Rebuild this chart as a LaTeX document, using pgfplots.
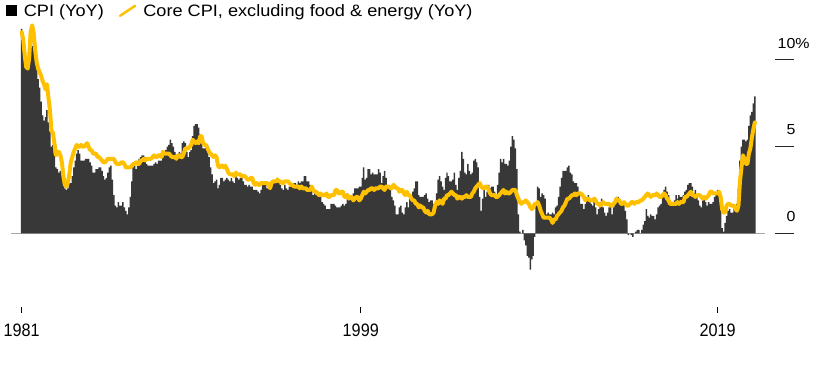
\documentclass[border=0pt]{standalone}
\usepackage{fontspec}
\setmainfont{Liberation Sans}
\newfontfamily\widefont{Liberation Sans}[FakeStretch=1.1]
\newfontfamily\condfont{Liberation Sans}[FakeStretch=0.9]
\usepackage{pgfplots}
\usepackage{pgfplotstable}
\pgfplotsset{compat=1.18}
\definecolor{barc}{HTML}{383838}
\definecolor{corec}{HTML}{FFC000}
\definecolor{basec}{HTML}{A8A8A8}

% monthly, Jan 1981 - Feb 2022: CPI YoY, core CPI YoY
\pgfplotstableread[row sep=\\]{
cpi core\\
11.8 11.6\\ 11.4 11.2\\ 10.5 10.3\\ 10.0 9.6\\ 9.8 9.5\\ 9.6 10.1\\ 10.8 11.6\\ 10.8 12.0\\ 11.0 11.6\\ 10.1 10.6\\ 9.6 9.9\\ 8.9 9.5\\
8.4 9.3\\ 7.6 9.1\\ 6.8 8.8\\ 6.5 8.6\\ 6.7 8.3\\ 7.1 8.6\\ 6.4 7.8\\ 5.9 7.1\\ 5.0 5.9\\ 5.1 5.8\\ 4.6 5.2\\ 3.8 4.5\\
3.7 4.7\\ 3.5 4.7\\ 3.6 4.5\\ 3.9 4.1\\ 3.5 3.3\\ 2.6 2.8\\ 2.5 2.7\\ 2.6 2.9\\ 2.9 3.4\\ 2.9 4.1\\ 3.3 4.4\\ 3.8 4.7\\
4.2 4.9\\ 4.6 5.1\\ 4.8 5.0\\ 4.6 5.0\\ 4.2 5.1\\ 4.2 5.0\\ 4.2 5.0\\ 4.3 5.1\\ 4.3 5.2\\ 4.3 5.0\\ 4.1 4.8\\ 3.9 4.8\\
3.5 4.6\\ 3.5 4.6\\ 3.7 4.6\\ 3.7 4.4\\ 3.8 4.4\\ 3.8 4.3\\ 3.6 4.2\\ 3.3 4.1\\ 3.1 4.1\\ 3.2 4.2\\ 3.5 4.3\\ 3.8 4.3\\
3.9 4.3\\ 3.1 4.3\\ 2.2 4.3\\ 1.6 4.1\\ 1.5 4.0\\ 1.8 4.0\\ 1.6 4.0\\ 1.6 4.1\\ 1.8 4.1\\ 1.5 4.0\\ 1.3 3.8\\ 1.1 3.8\\
1.5 3.8\\ 2.1 3.8\\ 3.0 3.9\\ 3.8 4.0\\ 3.9 4.0\\ 3.7 4.1\\ 3.9 4.0\\ 4.3 4.0\\ 4.4 4.2\\ 4.5 4.2\\ 4.5 4.3\\ 4.4 4.2\\
4.0 4.3\\ 3.9 4.3\\ 3.9 4.3\\ 3.9 4.3\\ 3.9 4.4\\ 4.0 4.5\\ 4.1 4.4\\ 4.0 4.4\\ 4.2 4.5\\ 4.2 4.5\\ 4.2 4.4\\ 4.4 4.7\\
4.7 4.6\\ 4.8 4.6\\ 5.0 4.6\\ 5.1 4.6\\ 5.4 4.5\\ 5.2 4.4\\ 5.0 4.4\\ 4.7 4.4\\ 4.3 4.3\\ 4.5 4.5\\ 4.7 4.5\\ 4.6 4.4\\
5.2 4.4\\ 5.3 4.6\\ 5.2 4.9\\ 4.7 4.9\\ 4.4 4.9\\ 4.7 5.0\\ 4.8 5.1\\ 5.6 5.4\\ 6.2 5.3\\ 6.3 5.2\\ 6.3 5.3\\ 6.1 5.2\\
5.7 5.6\\ 5.3 5.6\\ 4.9 5.2\\ 4.9 5.1\\ 5.0 5.1\\ 4.7 4.9\\ 4.4 4.7\\ 3.8 4.6\\ 3.4 4.5\\ 2.9 4.4\\ 3.0 4.5\\ 3.1 4.4\\
2.6 3.9\\ 2.8 3.8\\ 3.2 3.9\\ 3.2 3.9\\ 3.0 3.8\\ 3.1 3.9\\ 3.2 3.7\\ 3.1 3.5\\ 3.0 3.4\\ 3.2 3.4\\ 3.0 3.4\\ 2.9 3.3\\
3.3 3.5\\ 3.2 3.4\\ 3.1 3.4\\ 3.2 3.4\\ 3.2 3.3\\ 3.0 3.3\\ 2.8 3.3\\ 2.8 3.2\\ 2.7 3.1\\ 2.8 3.1\\ 2.7 3.2\\ 2.7 3.2\\
2.5 2.9\\ 2.5 2.8\\ 2.5 2.9\\ 2.4 2.8\\ 2.3 2.8\\ 2.5 2.9\\ 2.8 2.9\\ 2.9 2.9\\ 3.0 2.9\\ 2.6 2.9\\ 2.7 2.8\\ 2.7 2.6\\
2.8 2.9\\ 2.9 3.0\\ 2.9 3.0\\ 3.1 3.0\\ 3.2 3.1\\ 3.0 3.0\\ 2.8 3.0\\ 2.6 2.9\\ 2.5 2.9\\ 2.8 3.0\\ 2.6 3.0\\ 2.5 3.0\\
2.7 2.9\\ 2.7 2.8\\ 2.8 2.8\\ 2.9 2.7\\ 2.9 2.7\\ 2.8 2.7\\ 3.0 2.7\\ 2.9 2.6\\ 3.0 2.7\\ 3.0 2.6\\ 3.3 2.6\\ 3.3 2.6\\
3.0 2.5\\ 3.0 2.5\\ 2.8 2.5\\ 2.5 2.7\\ 2.2 2.5\\ 2.3 2.4\\ 2.2 2.4\\ 2.2 2.3\\ 2.2 2.2\\ 2.1 2.3\\ 1.8 2.2\\ 1.7 2.2\\
1.6 2.2\\ 1.4 2.3\\ 1.4 2.1\\ 1.4 2.1\\ 1.7 2.2\\ 1.7 2.2\\ 1.7 2.2\\ 1.6 2.5\\ 1.5 2.5\\ 1.5 2.3\\ 1.5 2.3\\ 1.6 2.4\\
1.7 2.4\\ 1.6 2.1\\ 1.7 2.1\\ 2.3 2.2\\ 2.1 2.0\\ 2.0 2.1\\ 2.1 2.1\\ 2.3 1.9\\ 2.6 2.0\\ 2.6 2.1\\ 2.6 2.1\\ 2.7 1.9\\
2.7 2.0\\ 3.2 2.2\\ 3.8 2.4\\ 3.1 2.3\\ 3.2 2.4\\ 3.7 2.5\\ 3.7 2.5\\ 3.4 2.6\\ 3.5 2.6\\ 3.4 2.5\\ 3.4 2.6\\ 3.4 2.6\\
3.7 2.6\\ 3.5 2.7\\ 2.9 2.7\\ 3.3 2.6\\ 3.6 2.5\\ 3.2 2.7\\ 2.7 2.7\\ 2.7 2.7\\ 2.6 2.6\\ 2.1 2.6\\ 1.9 2.8\\ 1.6 2.7\\
1.1 2.6\\ 1.1 2.6\\ 1.5 2.4\\ 1.6 2.5\\ 1.2 2.5\\ 1.1 2.3\\ 1.5 2.2\\ 1.8 2.4\\ 1.5 2.2\\ 2.0 2.2\\ 2.2 2.0\\ 2.4 1.9\\
2.6 1.9\\ 3.0 1.7\\ 3.0 1.7\\ 2.2 1.5\\ 2.1 1.6\\ 2.1 1.5\\ 2.1 1.5\\ 2.2 1.3\\ 2.3 1.2\\ 2.0 1.3\\ 1.8 1.1\\ 1.9 1.1\\
1.9 1.1\\ 1.7 1.2\\ 1.7 1.6\\ 2.3 1.8\\ 3.1 1.7\\ 3.3 1.9\\ 3.0 1.8\\ 2.7 1.7\\ 2.5 2.0\\ 3.2 2.0\\ 3.5 2.2\\ 3.3 2.2\\
3.0 2.3\\ 3.0 2.4\\ 3.1 2.3\\ 3.5 2.2\\ 2.8 2.2\\ 2.5 2.0\\ 3.2 2.1\\ 3.6 2.1\\ 4.7 2.0\\ 4.3 2.1\\ 3.5 2.1\\ 3.4 2.2\\
4.0 2.1\\ 3.6 2.1\\ 3.4 2.1\\ 3.5 2.3\\ 4.2 2.4\\ 4.3 2.6\\ 4.1 2.7\\ 3.8 2.8\\ 2.1 2.9\\ 1.3 2.7\\ 2.0 2.6\\ 2.5 2.6\\
2.1 2.7\\ 2.4 2.7\\ 2.8 2.5\\ 2.6 2.3\\ 2.7 2.2\\ 2.7 2.2\\ 2.4 2.2\\ 2.0 2.1\\ 2.8 2.1\\ 3.5 2.2\\ 4.3 2.3\\ 4.1 2.4\\
4.3 2.5\\ 4.0 2.3\\ 4.0 2.4\\ 3.9 2.3\\ 4.2 2.3\\ 5.0 2.4\\ 5.6 2.5\\ 5.4 2.5\\ 4.9 2.5\\ 3.7 2.2\\ 1.1 2.0\\ 0.1 1.8\\
0.0 1.7\\ 0.2 1.8\\ -0.4 1.8\\ -0.7 1.9\\ -1.3 1.8\\ -1.4 1.7\\ -2.1 1.5\\ -1.5 1.4\\ -1.3 1.5\\ -0.2 1.7\\ 1.8 1.7\\ 2.7 1.8\\
2.6 1.6\\ 2.1 1.3\\ 2.3 1.1\\ 2.2 0.9\\ 2.0 0.9\\ 1.1 0.9\\ 1.2 0.9\\ 1.1 0.9\\ 1.1 0.8\\ 1.2 0.6\\ 1.1 0.8\\ 1.5 0.8\\
1.6 1.0\\ 2.1 1.1\\ 2.7 1.2\\ 3.2 1.3\\ 3.6 1.5\\ 3.6 1.6\\ 3.6 1.8\\ 3.8 2.0\\ 3.9 2.0\\ 3.5 2.1\\ 3.4 2.2\\ 3.0 2.2\\
2.9 2.3\\ 2.9 2.2\\ 2.7 2.3\\ 2.3 2.3\\ 1.7 2.3\\ 1.7 2.2\\ 1.4 2.1\\ 1.7 1.9\\ 2.0 2.0\\ 2.2 2.0\\ 1.8 1.9\\ 1.7 1.9\\
1.6 1.9\\ 2.0 2.0\\ 1.5 1.9\\ 1.1 1.7\\ 1.4 1.7\\ 1.8 1.6\\ 2.0 1.7\\ 1.5 1.8\\ 1.2 1.7\\ 1.0 1.7\\ 1.2 1.7\\ 1.5 1.7\\
1.6 1.6\\ 1.1 1.6\\ 1.5 1.7\\ 2.0 1.8\\ 2.1 2.0\\ 2.1 1.9\\ 2.0 1.9\\ 1.7 1.7\\ 1.7 1.7\\ 1.7 1.8\\ 1.3 1.7\\ 0.8 1.6\\
-0.1 1.6\\ 0.0 1.7\\ -0.1 1.8\\ -0.2 1.8\\ 0.0 1.7\\ 0.1 1.8\\ 0.2 1.8\\ 0.2 1.8\\ 0.0 1.9\\ 0.2 1.9\\ 0.5 2.0\\ 0.7 2.1\\
1.4 2.2\\ 1.0 2.3\\ 0.9 2.2\\ 1.1 2.1\\ 1.0 2.2\\ 1.0 2.2\\ 0.8 2.2\\ 1.1 2.3\\ 1.5 2.2\\ 1.6 2.1\\ 1.7 2.1\\ 2.1 2.2\\
2.5 2.3\\ 2.7 2.2\\ 2.4 2.0\\ 2.2 1.9\\ 1.9 1.7\\ 1.6 1.7\\ 1.7 1.7\\ 1.9 1.7\\ 2.2 1.7\\ 2.0 1.8\\ 2.2 1.7\\ 2.1 1.8\\
2.1 1.8\\ 2.2 1.8\\ 2.4 2.1\\ 2.5 2.1\\ 2.8 2.2\\ 2.9 2.3\\ 2.9 2.4\\ 2.7 2.2\\ 2.3 2.2\\ 2.5 2.1\\ 2.2 2.2\\ 1.9 2.2\\
1.6 2.2\\ 1.5 2.1\\ 1.9 2.0\\ 2.0 2.1\\ 1.8 2.0\\ 1.6 2.1\\ 1.8 2.2\\ 1.7 2.4\\ 1.7 2.4\\ 1.8 2.3\\ 2.1 2.3\\ 2.3 2.3\\
2.5 2.3\\ 2.3 2.4\\ 1.5 2.1\\ 0.3 1.4\\ 0.1 1.2\\ 0.6 1.2\\ 1.0 1.6\\ 1.3 1.7\\ 1.4 1.7\\ 1.2 1.6\\ 1.2 1.6\\ 1.4 1.6\\
1.4 1.4\\ 1.7 1.3\\ 2.6 1.6\\ 4.2 3.0\\ 5.0 3.8\\ 5.4 4.5\\ 5.4 4.3\\ 5.3 4.0\\ 5.4 4.0\\ 6.2 4.6\\ 6.8 4.9\\ 7.0 5.5\\
7.5 6.0\\ 7.9 6.4\\
}\cpidata

\begin{document}
\begin{tikzpicture}
\begin{axis}[
  scale only axis, width=814pt, height=376pt,
  xmin=-14.6, xmax=532.8, ymin=-8.23, ymax=13.46,
  enlargelimits=false, clip=false,
  axis x line*=bottom, axis y line*=right,
  axis line style={draw=none},
  axis x line shift=-63pt,
  axis y line shift=-20pt,
  tick align=inside,
  xtick={0,228,468}, xticklabels={1981,1999,2019},
  ytick={0,5,10}, yticklabels={0,5,10\rlap{\%}},
  minor tick num=0,
  x tick style={/pgfplots/major tick length=6pt, draw=black, line width=0.7pt},
  y tick style={/pgfplots/major tick length=19pt, draw=black!85, line width=1pt},
  xticklabel style={font=\condfont\fontsize{18}{18}\selectfont, yshift=-7pt},
  yticklabel style={font=\widefont\fontsize{14.5}{14.5}\selectfont, anchor=south east, xshift=5pt, yshift=8pt},
  legend columns=2,
  legend style={at={(0.0075,0.995)}, anchor=north west, draw=none, fill=none,
    font=\widefont\fontsize{16.5}{16.5}\selectfont, inner sep=0pt,
    /tikz/every odd column/.append style={column sep=5pt},
    /tikz/every even column/.append style={column sep=13pt}},
]
\addplot[basec, line width=1.5pt, forget plot] coordinates {(-7.2,0) (499.9,0)};
\addplot[ybar, bar width=1.0, bar shift=0pt, fill=barc, draw=none,
  legend image code/.code={\fill[black] (0pt,-5pt) rectangle (10.5pt,5.5pt);}]
  table[x expr=\coordindex, y=cpi]{\cpidata};
\addlegendentry{CPI (YoY)}
\addplot[corec, line width=4pt, line join=round, line cap=round,
  legend image code/.code={\draw[corec, line width=2.5pt] (0pt,-5pt) -- (15pt,5pt);}]
  table[x expr=\coordindex, y=core]{\cpidata};
\addlegendentry{Core CPI, excluding food \& energy (YoY)}
\end{axis}
\end{tikzpicture}
\end{document}
